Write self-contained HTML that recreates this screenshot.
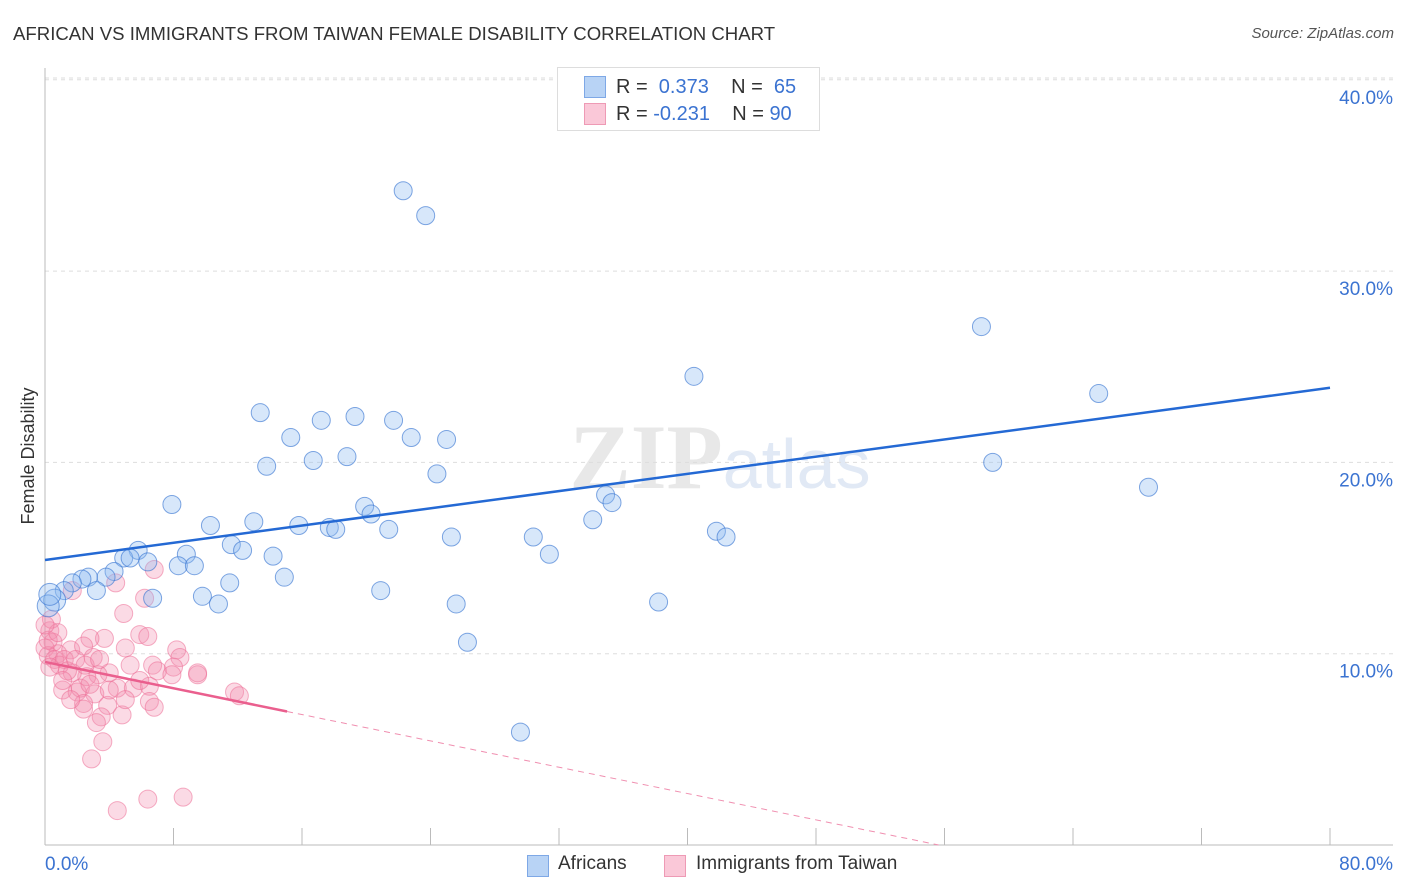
<!DOCTYPE html>
<html><head><meta charset="utf-8">
<style>
body{margin:0;background:#fff;font-family:"Liberation Sans",sans-serif;}
#wrap{position:relative;width:1406px;height:892px;overflow:hidden;}
.t{position:absolute;white-space:nowrap;}
</style></head>
<body>
<div id="wrap">
<div class="t" style="left:13px;top:23px;font-size:18.6px;color:#333;">AFRICAN VS IMMIGRANTS FROM TAIWAN FEMALE DISABILITY CORRELATION CHART</div>
<div class="t" style="right:12px;top:25px;font-size:15px;color:#555;font-style:italic;">Source: ZipAtlas.com</div>
<svg id="chart" width="1406" height="892" style="position:absolute;left:0;top:0"></svg>
</div>
<script>
const yTicks=[10,20,30,40];
const yTickLabels=["10.0%","20.0%","30.0%","40.0%"];
const xEndLabels=["0.0%","80.0%"];
const blueX=[22.3,23.7,58.3,65.6,40.4,59.0,68.7,13.4,15.3,17.2,19.3,21.7,22.8,25.0,18.8,16.7,13.8,24.4,19.9,20.3,34.9,35.3,34.1,41.8,42.4,30.4,25.3,31.4,7.9,10.3,13.0,15.8,17.7,18.1,21.4,11.6,12.3,8.8,14.2,5.8,4.9,5.3,6.4,8.3,9.3,4.3,3.8,2.7,2.3,1.7,1.2,3.2,11.5,14.9,6.7,9.8,10.8,20.9,25.6,38.2,26.3,29.6,0.6,0.2,0.3];
const blueY=[34.2,32.9,27.1,23.6,24.5,20.0,18.7,22.6,21.3,22.2,22.4,22.2,21.3,21.2,20.3,20.1,19.8,19.4,17.7,17.3,18.3,17.9,17.0,16.4,16.1,16.1,16.1,15.2,17.8,16.7,16.9,16.7,16.6,16.5,16.5,15.7,15.4,15.2,15.1,15.4,15.0,15.0,14.8,14.6,14.6,14.3,14.0,14.0,13.9,13.7,13.3,13.3,13.7,14.0,12.9,13.0,12.6,13.3,12.6,12.7,10.6,5.9,12.8,12.5,13.1];
const pinkX=[6.8,4.4,1.7,6.2,4.9,5.9,6.4,3.7,2.8,5.0,8.2,8.4,0.3,0.4,0.5,0.8,1.6,2.4,3.0,5.3,6.7,7.0,8.0,7.9,4.0,3.3,2.6,1.7,9.5,9.5,4.5,5.5,6.5,1.1,2.0,2.2,3.1,6.5,6.8,11.8,12.1,3.9,2.4,2.4,4.8,3.5,3.2,3.6,2.9,4.5,6.4,8.6,0,0.2,0.6,0.9,1.2,0.3,1.4,1.9,1.1,0.2,0.8,0,2.5,3.4,2.8,1.6,4.0,5.0,5.9];
const pinkY=[14.4,13.7,13.3,12.9,12.1,11.0,10.9,10.8,10.8,10.3,10.2,9.8,11.2,11.8,10.6,10.0,10.2,10.4,9.8,9.4,9.4,9.1,9.3,8.9,9.0,8.9,8.8,9.0,8.9,9.0,8.2,8.2,8.3,8.1,8.0,8.2,7.9,7.5,7.2,8.0,7.8,7.3,7.4,7.1,6.8,6.7,6.4,5.4,4.5,1.8,2.4,2.5,10.3,9.9,9.7,9.4,9.7,9.3,9.1,9.7,8.6,10.7,11.1,11.5,9.4,9.7,8.4,7.6,8.1,7.6,8.6];
const blueTrend=[14.9,23.9];
const pinkTrend=[9.57,-0.172];
const pinkSolidEnd=15.07;

const NS="http://www.w3.org/2000/svg";
const svg=document.getElementById('chart');
const X0=45,X1=1330,Y0=845,PY=19.13;
const xs=v=>X0+v/80*(X1-X0);
const ys=v=>Y0-v*PY;
function mk(t,a){const e=document.createElementNS(NS,t);for(const k in a)e.setAttribute(k,a[k]);svg.appendChild(e);return e;}
let wm=mk('text',{x:720,y:488,'text-anchor':'middle','font-size':92,'font-family':'Liberation Serif',fill:'#ececec'});


wm.innerHTML='<tspan fill="#e8e8e8" font-weight="bold">ZIP</tspan><tspan fill="#e1e9f5" font-family="Liberation Sans" font-size="70">atlas</tspan>';
yTicks.forEach((v,i)=>{
 let g=mk('line',{x1:X0,x2:1393,y1:ys(v),y2:ys(v),stroke:'#ddd','stroke-dasharray':'4,4'});
 
 
 let t=mk('text',{x:1393,y:ys(v)+24,'text-anchor':'end','font-size':19,fill:'#3b73d1'});
 t.textContent=yTickLabels[i];
 
 
});
let tg=mk('line',{x1:X0,x2:1393,y1:78,y2:78,stroke:'#ddd','stroke-dasharray':'4,4'});


let ya=mk('line',{x1:X0,x2:X0,y1:68,y2:Y0,stroke:'#bbb'});


let xa=mk('line',{x1:X0,x2:1393,y1:Y0,y2:Y0,stroke:'#bbb'});


for(let v=0;v<=80;v+=8){let tk=mk('line',{x1:xs(v),x2:xs(v),y1:828,y2:Y0,stroke:'#bbb'});
 
 }
let xl0=mk('text',{x:45,y:870,'font-size':19,fill:'#3b73d1'});xl0.textContent=xEndLabels[0];


let xl1=mk('text',{x:1393,y:870,'text-anchor':'end','font-size':19,fill:'#3b73d1'});xl1.textContent=xEndLabels[1];


let yt=mk('text',{x:34,y:456,'text-anchor':'middle','font-size':18,fill:'#333',transform:'rotate(-90 34 456)'});yt.textContent='Female Disability';


pinkX.forEach((x,i)=>{let c=mk('circle',{cx:xs(x),cy:ys(pinkY[i]),r:9,fill:'rgba(244,143,177,0.33)',stroke:'rgba(236,110,150,0.55)','stroke-width':1});
 
 });
blueX.forEach((x,i)=>{let big=i>=blueX.length-3;let c=mk('circle',{cx:xs(x),cy:ys(blueY[i]),r:big?11:9,fill:'rgba(140,185,240,0.35)',stroke:'rgba(60,120,210,0.65)','stroke-width':1});
 
 });
let bt=mk('line',{x1:xs(0),y1:ys(blueTrend[0]),x2:xs(80),y2:ys(blueTrend[1]),stroke:'#2469d4','stroke-width':2.5});


const pz=-pinkTrend[0]/pinkTrend[1];
let pd=mk('line',{x1:xs(pinkSolidEnd),y1:ys(pinkTrend[0]+pinkTrend[1]*pinkSolidEnd),x2:xs(pz),y2:ys(0),stroke:'#f08fb0','stroke-width':1,'stroke-dasharray':'6,5'});


let ps=mk('line',{x1:xs(0),y1:ys(pinkTrend[0]),x2:xs(pinkSolidEnd),y2:ys(pinkTrend[0]+pinkTrend[1]*pinkSolidEnd),stroke:'#ea5f8e','stroke-width':2.5});


</script>
<div style="position:absolute;left:557px;top:67px;width:261px;height:62px;border:1px solid #ddd;background:#fff;font-size:20px;color:#333;">
 <div style="position:absolute;left:26px;top:8px;width:20px;height:20px;background:#b8d3f5;border:1px solid #7ea8e6;"></div>
 <div class="t" style="left:58px;top:8px;">R = &nbsp;<span style="color:#3b73d1">0.373</span>&nbsp;&nbsp;&nbsp; N = &nbsp;<span style="color:#3b73d1">65</span></div>
 <div style="position:absolute;left:26px;top:35px;width:20px;height:20px;background:#fac8d8;border:1px solid #ee9ab5;"></div>
 <div class="t" style="left:58px;top:35px;">R = <span style="color:#3b73d1">-0.231</span>&nbsp;&nbsp;&nbsp; N = <span style="color:#3b73d1">90</span></div>
</div>
<div style="position:absolute;left:527px;top:853px;font-size:19px;color:#333;">
 <div style="position:absolute;left:0;top:2px;width:20px;height:20px;background:#b8d3f5;border:1px solid #7ea8e6;"></div>
 <div class="t" style="left:31px;top:0;">Africans</div>
 <div style="position:absolute;left:137px;top:2px;width:20px;height:20px;background:#fac8d8;border:1px solid #ee9ab5;"></div>
 <div class="t" style="left:169px;top:0;">Immigrants from Taiwan</div>
</div>
</body></html>
